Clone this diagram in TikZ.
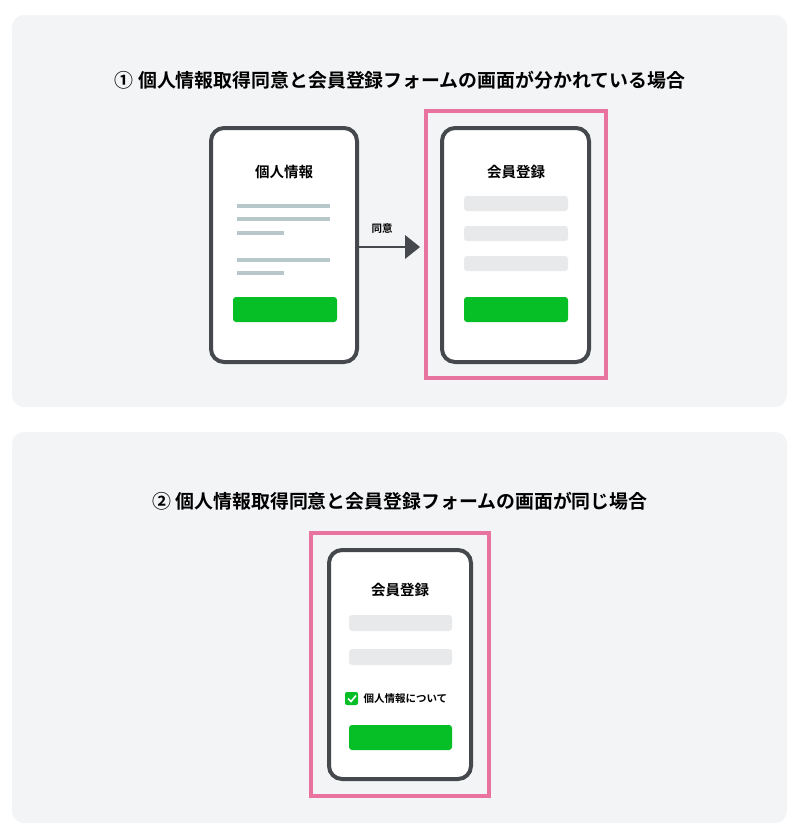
\documentclass[tikz,border=0pt]{standalone}
\usepackage{fontspec}
\newfontfamily\cjk{Noto Sans CJK JP}[BoldFont={Noto Sans CJK JP Bold}]
\definecolor{panel}{HTML}{F3F4F6}
\definecolor{frame}{HTML}{45484D}
\definecolor{pinkc}{HTML}{E8739E}
\definecolor{linec}{HTML}{B8C7C9}
\definecolor{fieldc}{HTML}{E8E9EB}
\definecolor{greenc}{HTML}{06BE26}
\begin{document}
\begin{tikzpicture}[x=1pt,y=-1pt,
  panelbox/.style={fill=panel,rounded corners=12pt},
  phone/.style={draw=frame,line width=4pt,fill=white,rounded corners=13pt},
  pinkbox/.style={draw=pinkc,line width=4pt},
  txtline/.style={linec,line width=3.5pt},
  field/.style={fill=fieldc,rounded corners=3pt},
  btn/.style={fill=greenc,rounded corners=3pt},
  ttl/.style={font=\cjk\bfseries\fontsize{18.9}{21}\selectfont},
  hd/.style={font=\cjk\bfseries\fontsize{14.5}{16}\selectfont},
  sm/.style={font=\cjk\bfseries\fontsize{10.5}{12}\selectfont}]
\useasboundingbox (0,0) rectangle (800,835);
\fill[white] (0,0) rectangle (800,835);
\fill[panelbox] (12,15) rectangle (787,407);
\fill[panelbox] (12,432) rectangle (787,823);
\node[ttl] (t1) at (400,80) {① 個人情報取得同意と会員登録フォームの画面が分かれている場合};
\node[ttl] (t2) at (400,501) {② 個人情報取得同意と会員登録フォームの画面が同じ場合};
% phone 1
\draw[phone] (211,128) rectangle (357,362);
\node[hd] (h1) at (284,172) {個人情報};
\draw[txtline] (237,206) -- (330,206);
\draw[txtline] (237,219) -- (330,219);
\draw[txtline] (237,233) -- (284,233);
\draw[txtline] (237,260) -- (330,260);
\draw[txtline] (237,273) -- (284,273);
\fill[btn] (233,297) rectangle (337,322);
% arrow
\coordinate (a1) at (359,247);
\coordinate (a2) at (420,247);
\draw[frame,line width=2pt] (a1) -- (407,247);
\fill[frame] (405,235) -- (420,247) -- (405,259) -- cycle;
\node[sm] (lbl) at (382,229) {同意};
% pink 1 & phone 2
\draw[pinkbox] (426,111) rectangle (606,378);
\draw[phone] (442,128) rectangle (589,362);
\node[hd] (h2) at (516,172) {会員登録};
\fill[field] (464,196) rectangle (568,211);
\fill[field] (464,226) rectangle (568,241);
\fill[field] (464,256) rectangle (568,271);
\fill[btn] (464,297) rectangle (568,322);
% panel 2
\draw[pinkbox] (311,533) rectangle (489,796);
\draw[phone] (329,550) rectangle (471,779);
\node[hd] (h3) at (400,590) {会員登録};
\fill[field] (349,615) rectangle (452,631);
\fill[field] (349,649) rectangle (452,665);
\fill[greenc,rounded corners=2pt] (345,692) rectangle (358,705);
\draw[white,line width=1.6pt] (348,698.5) -- (351,701.5) -- (356,695.5);
\node[sm,anchor=west] (cb) at (360,698.5) {個人情報について};
\fill[btn] (349,725) rectangle (452,750);
\end{tikzpicture}
\end{document}
